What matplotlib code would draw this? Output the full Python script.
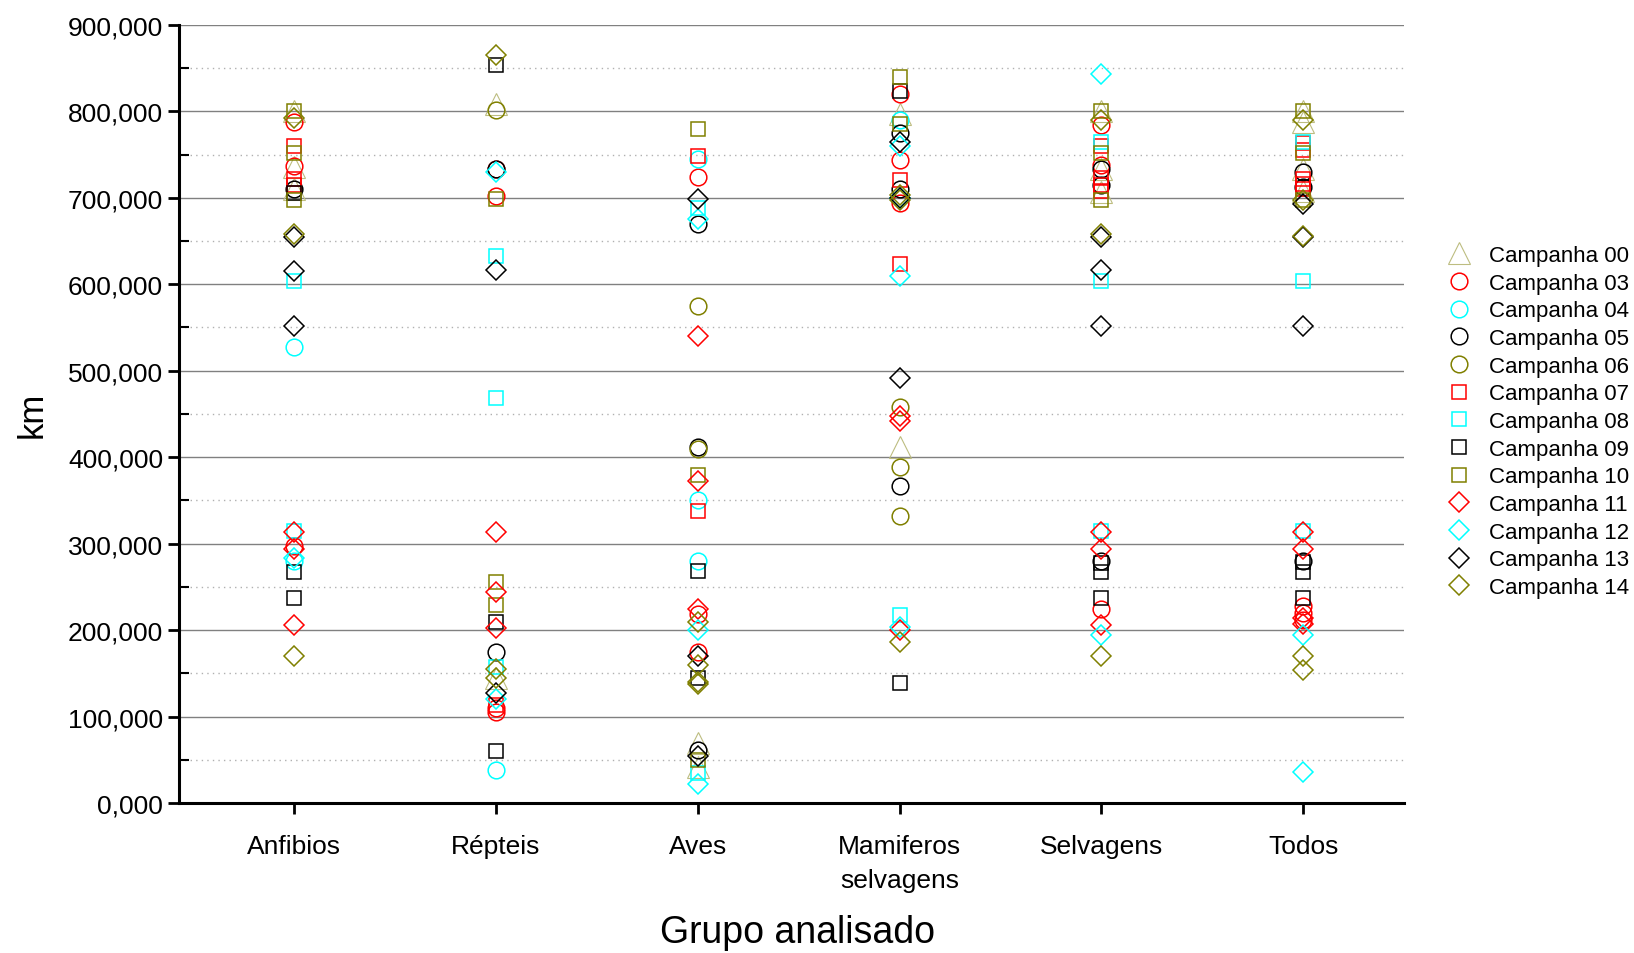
import matplotlib
matplotlib.use("Agg")
import matplotlib.pyplot as plt
from matplotlib.ticker import MultipleLocator, FuncFormatter

plt.rcParams['font.family'] = ['Liberation Sans', 'DejaVu Sans']

groups = ["Anfibios", "Répteis", "Aves", "Mamiferos\nselvagens", "Selvagens", "Todos"]

# distances (km) per group, one list per group for each campaign
c00 = [[800, 735, 710], [808, 145], [70, 42], [797, 412], [800, 733, 707], [800, 787, 733, 708]]
c03 = [[787, 737, 297], [733, 702, 110, 105], [724, 219, 175], [820, 744, 694], [784, 738, 225], [228, 220, 212]]
c04 = [[528, 280], [38], [745, 350, 280], [790], [], []]
c05 = [[710], [733, 175], [670, 412, 62], [775, 710, 367], [733, 715, 280], [730, 712, 280]]
c06 = [[], [802], [575, 409], [458, 389, 332], [], []]
c07 = [[760, 722, 715], [113], [748, 338], [720, 623], [760, 723, 715, 708], [763, 755, 722, 716, 710]]
c08 = [[604, 315], [633, 469, 158], [688, 35], [218], [765, 604, 315], [765, 604, 315]]
c09 = [[705, 267, 237], [853, 210, 60], [268, 145], [823, 139], [278, 267, 237], [279, 267, 237]]
c10 = [[800, 752, 697], [699, 256, 229], [780, 380, 50], [840, 785], [800, 752, 697], [800, 752, 697]]
c11 = [[313, 294, 206], [313, 244, 203], [540, 372, 224], [448, 442, 200], [313, 294, 206], [313, 294, 214, 207]]
c12 = [[284], [730, 120], [675, 200, 22], [760, 700, 610, 204], [843, 195], [195, 36]]
c13 = [[655, 615, 552], [616, 127], [698, 170, 55], [765, 700, 492], [655, 616, 552], [693, 655, 552]]
c14 = [[792, 658, 170], [865, 155, 145], [210, 160, 140, 138], [703, 697, 186], [790, 658, 170], [790, 697, 656, 170, 154]]

series = [
    ("Campanha 00", c00, "^", "#bdbd80", 15.5, 0.8),
    ("Campanha 03", c03, "o", "#ff0000", 12, 1.1),
    ("Campanha 04", c04, "o", "#00ffff", 12, 1.1),
    ("Campanha 05", c05, "o", "#000000", 12, 1.1),
    ("Campanha 06", c06, "o", "#808000", 12, 1.1),
    ("Campanha 07", c07, "s", "#ff0000", 9.5, 1.1),
    ("Campanha 08", c08, "s", "#00ffff", 9.5, 1.1),
    ("Campanha 09", c09, "s", "#000000", 9.5, 1.1),
    ("Campanha 10", c10, "s", "#808000", 9.5, 1.1),
    ("Campanha 11", c11, "D", "#ff0000", 10, 1.1),
    ("Campanha 12", c12, "D", "#00ffff", 10, 1.1),
    ("Campanha 13", c13, "D", "#000000", 10, 1.1),
    ("Campanha 14", c14, "D", "#808000", 10, 1.1),
]

fig = plt.figure(figsize=(16.34, 9.54), dpi=100)
ax = fig.add_axes([0.1096, 0.157, 0.7497, 0.816])

for name, vals, marker, color, ms, mew in series:
    xs, ys = [], []
    for i, v in enumerate(vals):
        xs += [i] * len(v)
        ys += v
    ax.plot(xs, ys, linestyle="none", marker=marker, ms=ms, mew=mew,
            mfc="none", mec=color, label=name, clip_on=False, zorder=3)

ax.set_xlim(-0.57, 5.5)
ax.set_ylim(0, 900)
ax.set_xticks(range(len(groups)))
ax.set_xticklabels(groups, linespacing=1.55)
ax.yaxis.set_major_locator(MultipleLocator(100))
ax.yaxis.set_minor_locator(MultipleLocator(50))
ax.yaxis.set_major_formatter(FuncFormatter(lambda v, p: f"{v:.3f}".replace(".", ",")))

ax.grid(axis="y", which="major", color="#808080", linewidth=1.0, linestyle="-")
ax.grid(axis="y", which="minor", color="#b0b0b0", linewidth=1.0, linestyle=(0, (1, 3)))
ax.set_axisbelow(True)

for s in ("top", "right"):
    ax.spines[s].set_visible(False)
for s in ("left", "bottom"):
    ax.spines[s].set_linewidth(2.2)

ax.tick_params(axis="both", which="major", direction="out", length=8, width=2, labelsize=19)
ax.tick_params(axis="y", which="minor", direction="in", length=7, width=1.5)
ax.tick_params(axis="x", pad=14)

ax.set_ylabel("km", fontsize=25, labelpad=14)
ax.set_xlabel("Grupo analisado", fontsize=27, labelpad=16)
ax.xaxis.label.set_x(0.505)

fig.legend(loc="upper left", bbox_to_anchor=(0.885, 0.742), frameon=False,
           fontsize=16, handlelength=1.2, handletextpad=0.75, labelspacing=0.30,
           borderpad=0, borderaxespad=0)

fig.savefig("out.png", dpi=100)
